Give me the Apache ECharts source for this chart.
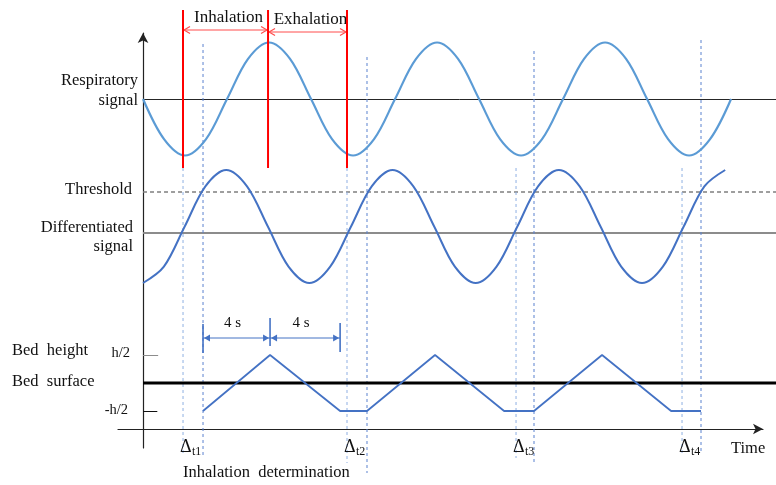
<!DOCTYPE html>
<html>
<head>
<meta charset="UTF-8">
<title>Respiratory gating</title>
<script src="https://cdn.jsdelivr.net/npm/echarts@6/dist/echarts.min.js"></script>
<style>
html,body{margin:0;padding:0;background:#fff;}
#main{width:776px;height:485px;}
</style>
</head>
<body>
<div id="main"></div>
<script>
// time in seconds, signals normalised to -1..1
var respT = [0,1.25,2.5,3.75,5,6.25,7.5,8.75,10,11.25,12.5,13.75,15,16.25,17.5,18.75,20,21.25,22.5,23.75,25,26.25,27.5,28.75,30,31.25,32.5,33.75,35];
var respV = [0,-0.71,-1,-0.71,0,0.71,1,0.71,0,-0.71,-1,-0.71,0,0.71,1,0.71,0,-0.71,-1,-0.71,0,0.71,1,0.71,0,-0.71,-1,-0.71,0];
var diffT = [0,1.24,2.48,3.71,4.95,6.19,7.43,8.66,9.9,11.14,12.38,13.61,14.85,16.09,17.33,18.56,19.8,21.04,22.28,23.51,24.75,25.99,27.23,28.46,29.7,30.94,32.18,33.41,34.65];
var diffV = [-1,-0.71,0,0.71,1,0.71,0,-0.71,-1,-0.71,0,0.71,1,0.71,0,-0.71,-1,-0.71,0,0.71,1,0.71,0,-0.71,-1,-0.71,0,0.71,1];
var bedT = [3.57,7.56,11.73,13.33,17.38,21.49,23.27,27.32,31.43,33.21];
var bedV = [-1,1,-1,-1,1,-1,-1,1,-1,-1];
var phaseT = [2.38,7.44,12.14];           // start inhale / end inhale / end exhale
var phaseNames = ['Inhalation','Exhalation'];
var crossT = [2.38,12.14,22.2,32.08];     // differentiated signal crosses zero
var trigT = [3.57,13.33,23.27,33.21];     // differentiated signal crosses threshold
var deltaNames = ['t1','t2','t3','t4'];
var stepT = [3.57,7.56,11.73];
var stepNames = ['4 s','4 s'];

// layout (y unit = 1 px above the time axis)
var RESP_MID = 330, RESP_AMP = 56.5;
var DIFF_MID = 202.5, DIFF_AMP = 56.5, DIFF_ZERO = 196, THRESH = 237;
var BED_MID = 46, BED_HALF = 28;
var T_END = 37.7;
var crossTop = [261,261,261,261], crossBot = [-26,-34,-29,-26];
var trigTop = [385,372,378,389], trigBot = [-28,-44,-36,-24];
var stepTop = [105,111,106], stepBot = [76,83,77];

var FONT = "'Liberation Serif','Times New Roman',serif";

function pairs(ts, vs, mid, amp) {
	return ts.map(function (t, i) { return [t, mid + amp * vs[i]]; });
}
// straight segments [t0, y0, t1, y1]
function segs(data, style, z) {
	return {
		type: 'custom', data: data, silent: true, z: z || 3,
		renderItem: function (params, api) {
			var a = api.coord([api.value(0), api.value(1)]);
			var b = api.coord([api.value(2), api.value(3)]);
			return { type: 'line', shape: { x1: a[0], y1: a[1], x2: b[0], y2: b[1] }, style: style };
		}
	};
}
function hline(y, t0, t1, style, z) {
	return segs([[t0, y, t1, y]], style, z);
}
// double headed arrows [t0, t1, y]
function arrows(data, color, open, z) {
	return {
		type: 'custom', data: data, silent: true, z: z || 4,
		renderItem: function (params, api) {
			var a = api.coord([api.value(0), api.value(2)]);
			var b = api.coord([api.value(1), api.value(2)]);
			var L = 7, W = 3.5, y = a[1];
			var kids = [{ type: 'line', shape: { x1: a[0], y1: y, x2: b[0], y2: y }, style: { stroke: color, lineWidth: 1 } }];
			var h0 = [[a[0] + L, y - W], [a[0] + 1, y], [a[0] + L, y + W]];
			var h1 = [[b[0] - L, y - W], [b[0] - 1, y], [b[0] - L, y + W]];
			if (open) {
				kids.push({ type: 'polyline', shape: { points: h0 }, style: { stroke: color, fill: null, lineWidth: 1.2 } });
				kids.push({ type: 'polyline', shape: { points: h1 }, style: { stroke: color, fill: null, lineWidth: 1.2 } });
			} else {
				kids.push({ type: 'polygon', shape: { points: h0 }, style: { fill: color } });
				kids.push({ type: 'polygon', shape: { points: h1 }, style: { fill: color } });
			}
			return { type: 'group', children: kids };
		}
	};
}
// texts anchored at data coords [t, y]
function texts(data, names, dx, size, z) {
	return {
		type: 'custom', data: data, silent: true, z: z || 5,
		renderItem: function (params, api) {
			var p = api.coord([api.value(0), api.value(1)]);
			return { type: 'text', style: { text: names[params.dataIndex], x: p[0] + dx, y: p[1],
				fill: '#111', font: size + 'px ' + FONT, align: 'center', verticalAlign: 'middle' } };
		}
	};
}

var redData = phaseT.map(function (t) { return [t, 419, t, 261]; });
var redArrows = [[phaseT[0], phaseT[1], 399], [phaseT[1], phaseT[2], 397]];
var redLabels = [[(phaseT[0] + phaseT[1]) / 2, 411], [(phaseT[1] + phaseT[2]) / 2, 409]];
var crossData = crossT.map(function (t, i) { return [t, crossTop[i], t, crossBot[i]]; });
var trigData = trigT.map(function (t, i) { return [t, trigTop[i], t, trigBot[i]]; });
var stepData = stepT.map(function (t, i) { return [t, stepTop[i], t, stepBot[i]]; });
var stepArrows = [[stepT[0], stepT[1], 91], [stepT[1], stepT[2], 91]];
var stepLabels = [[(stepT[0] + stepT[1]) / 2, 106], [(stepT[1] + stepT[2]) / 2, 106]];

var deltaSeries = {
	type: 'custom', data: crossT.map(function (t) { return [t, -18]; }), silent: true, z: 5,
	renderItem: function (params, api) {
		var p = api.coord([api.value(0), api.value(1)]);
		return { type: 'group', children: [
			{ type: 'text', style: { text: '\u0394', x: p[0] - 3, y: p[1], fill: '#111', font: '18px ' + FONT, align: 'left', verticalAlign: 'middle' } },
			{ type: 'text', style: { text: deltaNames[params.dataIndex], x: p[0] + 9, y: p[1] + 5, fill: '#111', font: '12px ' + FONT, align: 'left', verticalAlign: 'middle' } }
		] };
	}
};

function label(text, pos, size) {
	var el = { type: 'text', top: pos.top, style: { text: text, font: (size || 16.5) + 'px ' + FONT, fill: '#111' } };
	if (pos.right != null) el.right = 776 - pos.right; else el.left = pos.left;
	return el;
}

var chart = echarts.init(document.getElementById('main'));
chart.setOption({
	animation: false,
	backgroundColor: '#fff',
	grid: { left: 118, right: 13, top: 33, bottom: 37 },
	xAxis: {
		type: 'value', min: -1.49, max: 36.9,
		axisLine: { onZero: true, symbol: ['none', 'arrow'], symbolSize: [8, 10], lineStyle: { color: '#222', width: 1.2 } },
		axisTick: { show: false }, axisLabel: { show: false }, splitLine: { show: false }
	},
	yAxis: {
		type: 'value', min: -19, max: 396,
		axisLine: { show: true, onZero: true, symbol: ['none', 'arrow'], symbolSize: [8, 10], lineStyle: { color: '#222', width: 1.2 } },
		axisTick: { show: false }, axisLabel: { show: false }, splitLine: { show: false }
	},
	graphic: [
		label('Respiratory', { right: 138, top: 72 }),
		label('signal', { right: 138, top: 92 }),
		label('Threshold', { right: 132, top: 181 }),
		label('Differentiated', { right: 133, top: 219 }),
		label('signal', { right: 133, top: 238 }),
		label('Bed  height', { left: 12, top: 342 }),
		label('Bed  surface', { left: 12, top: 373 }),
		label('h/2', { right: 130, top: 346 }, 14.5),
		label('-h/2', { right: 128, top: 403 }, 14.5),
		label('Time', { left: 731, top: 440 }),
		label('Inhalation  determination', { left: 183, top: 464 })
	],
	series: [
		hline(RESP_MID - 0.5, 0, T_END, { stroke: '#262626', lineWidth: 1 }),
		hline(THRESH, 0, T_END, { stroke: '#7f7f7f', lineWidth: 1.3, lineDash: [4, 3] }),
		hline(DIFF_ZERO, 0, T_END, { stroke: '#8c8c8c', lineWidth: 2 }),
		hline(BED_MID, 0, T_END, { stroke: '#000', lineWidth: 3 }, 6),
		hline(BED_MID + BED_HALF - 0.5, 0, 0.9, { stroke: '#8c8c8c', lineWidth: 1 }),
		hline(BED_MID - BED_HALF - 0.5, 0, 0.85, { stroke: '#111', lineWidth: 1 }),
		segs(crossData, { stroke: '#8fb0e3', lineWidth: 1, lineDash: [3, 3] }),
		segs(trigData, { stroke: '#5b82cf', lineWidth: 1, lineDash: [3, 3] }),
		{ type: 'line', data: pairs(respT, respV, RESP_MID, RESP_AMP), smooth: 0.33, symbol: 'none', silent: true,
			lineStyle: { color: '#5B9BD5', width: 2.2 }, z: 4 },
		{ type: 'line', data: pairs(diffT, diffV, DIFF_MID, DIFF_AMP), smooth: 0.33, symbol: 'none', silent: true,
			lineStyle: { color: '#4472C4', width: 2 }, z: 4 },
		{ type: 'line', data: pairs(bedT, bedV, BED_MID, BED_HALF), symbol: 'none', silent: true,
			lineStyle: { color: '#4472C4', width: 1.8 }, z: 7 },
		segs(redData, { stroke: '#ff0000', lineWidth: 2 }, 8),
		arrows(redArrows, '#ff4d4d', true),
		texts(redLabels, phaseNames, 3, 17),
		segs(stepData, { stroke: '#4472C4', lineWidth: 1.6 }, 8),
		arrows(stepArrows, '#4472C4', false),
		texts(stepLabels, stepNames, -4, 15),
		deltaSeries
	]
});
</script>
</body>
</html>
